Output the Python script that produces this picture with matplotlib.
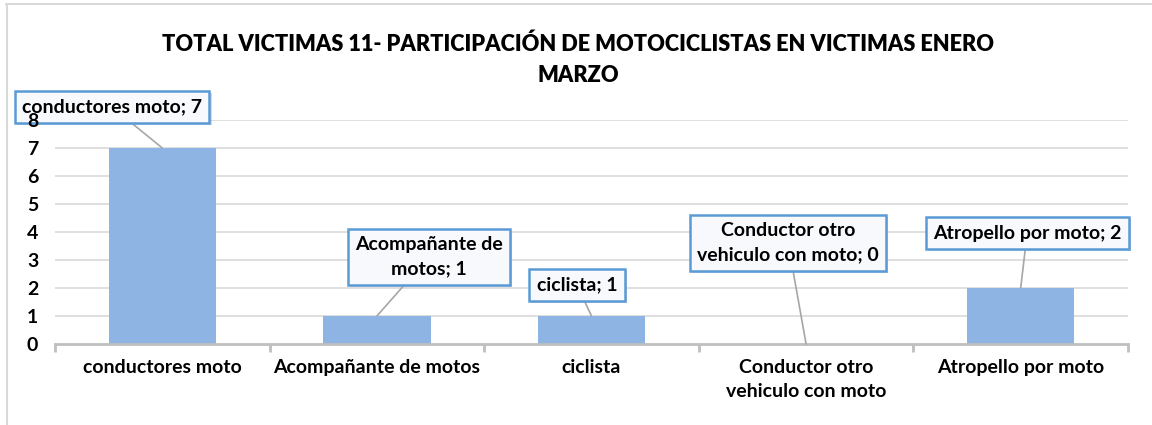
import matplotlib.pyplot as plt
import matplotlib.patheffects as pe
from matplotlib.lines import Line2D

plt.rcParams['font.family'] = ['Lato', 'DejaVu Sans']
plt.rcParams['font.weight'] = 'bold'

categorias = ['conductores moto', 'Acompañante de motos', 'ciclista',
              'Conductor otro\nvehiculo con moto', 'Atropello por moto']
victimas = [7, 1, 1, 0, 2]
etiquetas = ['conductores moto; 7', 'Acompañante de\nmotos; 1', 'ciclista; 1',
             'Conductor otro\nvehiculo con moto; 0', 'Atropello por moto; 2']
# donde va cada cuadro de texto (x de categoria, y en unidades del eje)
pos_etiquetas = [(-0.234, 8.46), (1.243, 3.11), (1.932, 2.11), (2.916, 3.61), (4.03, 3.96)]
niveles_y = list(range(0, 9))

fig = plt.figure(figsize=(11.52, 4.25), dpi=100)
ax = fig.add_axes([55 / 1152, 1 - 344 / 425, 1073 / 1152, 224 / 425])

x = list(range(len(categorias)))
# lineas de cuadricula por debajo de las barras
for v in niveles_y[1:]:
    ax.axhline(v, color='#D9D9D9', lw=1.2, zorder=0)
ax.bar(x, victimas, width=0.5, color='#8DB4E2', zorder=2)

ax.set_xlim(-0.5, 4.5)
ax.set_ylim(0, 8)
ax.set_yticks(niveles_y)
for s in ['top', 'right', 'left']:
    ax.spines[s].set_visible(False)
ax.spines['bottom'].set_color('#BFBFBF')
ax.spines['bottom'].set_linewidth(2)

ax.set_xticks(x)
ax.set_xticklabels(categorias, fontsize=14, fontweight='bold', va='top')
for t in ax.get_xticklabels():
    t.set_linespacing(1.5)
ax.set_xticks([i - 0.5 for i in range(6)], minor=True)
ax.tick_params(axis='x', which='major', length=0, pad=11)
ax.tick_params(axis='x', which='minor', length=6, width=2, color='#BFBFBF', direction='out')
ax.tick_params(axis='y', length=0, pad=12, labelsize=14)
for t in ax.get_yticklabels():
    t.set_fontweight('bold')
# los numeros del eje quedan encima de los cuadros de texto
ax.yaxis.set_zorder(6)

for i, (txt, (tx, ty)) in enumerate(zip(etiquetas, pos_etiquetas)):
    ann = ax.annotate(txt, xy=(i, victimas[i]), xytext=(tx, ty),
                      ha='center', va='center', fontsize=14, fontweight='bold',
                      linespacing=1.5, zorder=5, annotation_clip=False,
                      bbox=dict(boxstyle='square,pad=0.38', fc='#F7F9FD', ec='#5B9BD5', lw=1.8),
                      arrowprops=dict(arrowstyle='-', color='#A6A6A6', lw=1.2,
                                      shrinkA=0, shrinkB=0))
    ann.get_bbox_patch().set_path_effects([
        pe.SimplePatchShadow(offset=(1.5, -1.5), shadow_rgbFace='#9DB8D9', alpha=0.5),
        pe.Normal()])

fig.text(0.502, 1 - 60 / 425, 'TOTAL VICTIMAS 11- PARTICIPACIÓN DE MOTOCICLISTAS EN VICTIMAS ENERO\nMARZO',
         ha='center', va='center', fontsize=15.7, fontweight='heavy', linespacing=1.6)

# borde del area del grafico (arriba e izquierda)
fig.add_artist(Line2D([6 / 1152, 1], [1 - 3.5 / 425, 1 - 3.5 / 425], color='#D9D9D9', lw=1.5))
fig.add_artist(Line2D([6.5 / 1152, 6.5 / 1152], [0, 1 - 3.5 / 425], color='#D9D9D9', lw=1.5))

fig.savefig('out.png', dpi=100, facecolor='white')
